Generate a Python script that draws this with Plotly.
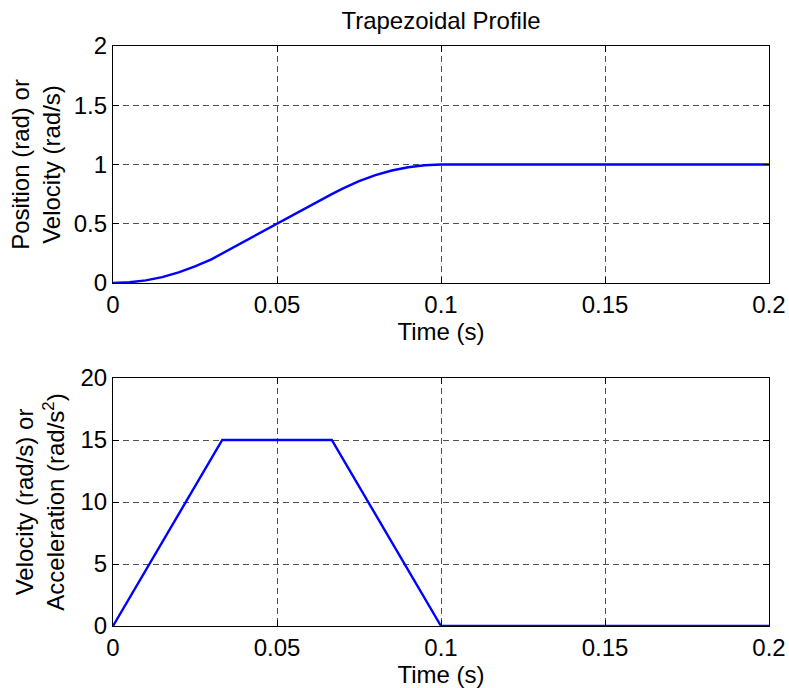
import plotly.graph_objects as go
from plotly.subplots import make_subplots

# Position profile
t_pos = [0, 0.005, 0.01, 0.015, 0.02, 0.025, 0.03, 0.0333, 0.04, 0.045, 0.05,
         0.055, 0.06, 0.0667, 0.07, 0.075, 0.08, 0.085, 0.09, 0.095, 0.1, 0.2]
pos = [0, 0.006, 0.022, 0.05, 0.09, 0.14, 0.2, 0.25, 0.35, 0.425, 0.5,
       0.575, 0.65, 0.75, 0.797, 0.859, 0.91, 0.949, 0.977, 0.994, 1.0, 1.0]

# Velocity profile
t_vel = [0, 0.0333, 0.0667, 0.1, 0.2]
vel = [0, 15, 15, 0, 0]

x_ticks = [0, 0.05, 0.1, 0.15, 0.2]
x_labels = ["0", "0.05", "0.1", "0.15", "0.2"]
y1_ticks = [0, 0.5, 1, 1.5, 2]
y1_labels = ["0", "0.5", "1", "1.5", "2"]
y2_ticks = [0, 5, 10, 15, 20]
y2_labels = ["0", "5", "10", "15", "20"]

FONT = "Liberation Sans, Arial, Helvetica, sans-serif"
FS = 24
W, H = 789, 688
ml, mr, mt, mb = 113, 20, 46, 62
ph = H - mt - mb

fig = make_subplots(rows=2, cols=1)
fig.add_trace(go.Scatter(x=t_pos, y=pos, mode="lines",
                         line=dict(color="#0000FF", width=2.4), showlegend=False), row=1, col=1)
fig.add_trace(go.Scatter(x=t_vel, y=vel, mode="lines",
                         line=dict(color="#0000FF", width=2.4), showlegend=False), row=2, col=1)

top_dom = [(626 - 283) / ph, 1.0]
bot_dom = [0.0, (626 - 378) / ph]

axis_common = dict(
    showline=True, linecolor="black", linewidth=1.2, mirror="ticks",
    ticks="inside", ticklen=6, tickcolor="black", tickwidth=1,
    showgrid=True, gridcolor="#505050", gridwidth=1, griddash="6px,4px",
    zeroline=False, automargin=False,
    tickfont=dict(family=FONT, size=FS, color="black"),
)

fig.update_xaxes(range=[0, 0.2], tickvals=x_ticks, ticktext=x_labels,
                 title=dict(text="Time (s)", font=dict(family=FONT, size=FS, color="black"), standoff=0),
                 **axis_common)
fig.update_yaxes(**axis_common)
fig.update_yaxes(range=[0, 2], tickvals=y1_ticks, ticktext=y1_labels, domain=top_dom,
                 title=dict(text="Position (rad) or<br>Velocity (rad/s)",
                            font=dict(family=FONT, size=FS, color="black"), standoff=6),
                 row=1, col=1)
fig.update_yaxes(range=[0, 20], tickvals=y2_ticks, ticktext=y2_labels, domain=bot_dom,
                 title=dict(text="Velocity (rad/s) or<br>Acceleration (rad/s<sup>2</sup>)",
                            font=dict(family=FONT, size=FS, color="black"), standoff=8),
                 row=2, col=1)
fig.update_xaxes(domain=[0, 1])

fig.update_layout(
    width=W, height=H,
    margin=dict(l=ml, r=mr, t=mt, b=mb),
    paper_bgcolor="white", plot_bgcolor="white",
    font=dict(family=FONT, size=FS, color="black"),
    title=dict(text="Trapezoidal Profile", x=(ml + (W - ml - mr) / 2) / W, xanchor="center",
               y=1 - 21 / H, yanchor="middle", font=dict(family=FONT, size=FS, color="black")),
)

fig.write_html("out.html")
